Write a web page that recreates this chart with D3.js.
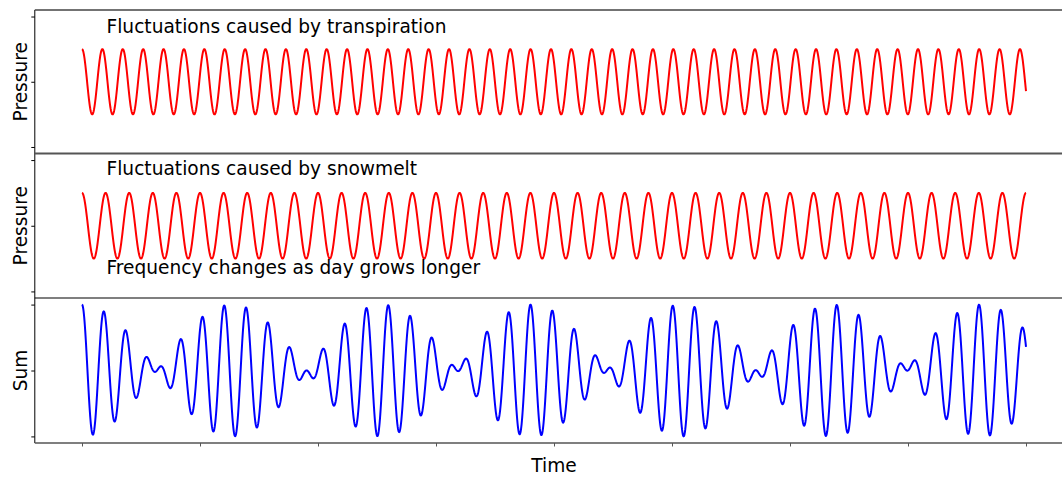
<!DOCTYPE html>
<html>
<head>
<meta charset="utf-8">
<script src="https://cdn.jsdelivr.net/npm/d3@7"></script>
<style>
  html, body { margin: 0; padding: 0; background: #fff; }
  svg { display: block; font-family: "DejaVu Sans", sans-serif; }
</style>
</head>
<body>
<svg id="chart" width="1062" height="477"></svg>
<script>
// ---- Data ----
const timeDomain = [0, 8];                 // time span of all series
const timeTicks = [0, 1, 2, 3, 4, 5, 6, 7, 8];
const pressureTicks = [-2, 0, 2];
const yDomain = [-2.2, 2.2];
// sinusoid parameters: cycles per time unit, amplitude, phase (cycles)
const transpirationWave = { freq: 5.787, amp: 1, phase: 0 };
const snowmeltWave = { freq: 5.0, amp: 1, phase: 0 };
const panelLabels = ["Pressure", "Pressure", "Sum"];
const panelTitles = ["Fluctuations caused by transpiration", "Fluctuations caused by snowmelt"];
const panelNote = "Frequency changes as day grows longer";
const xLabel = "Time";
const sampleCount = 3000;

const times = d3.range(sampleCount + 1).map(i => timeDomain[0] + (timeDomain[1] - timeDomain[0]) * i / sampleCount);
const wave = (p, t) => p.amp * Math.cos(2 * Math.PI * (p.freq * t + p.phase));
const transpiration = times.map(t => ({ t, v: wave(transpirationWave, t) }));
const snowmelt = times.map(t => ({ t, v: wave(snowmeltWave, t) }));
const sum = times.map((t, i) => ({ t, v: transpiration[i].v + snowmelt[i].v }));

// ---- Layout ----
const svg = d3.select("#chart");
const x = d3.scaleLinear().domain(timeDomain).range([82, 1026]);
const axLeft = x(-0.4), axRight = x(8.4);
const panels = [
  { top: 10, bottom: 153.5, data: transpiration, color: "#ff0000" },
  { top: 153.5, bottom: 298, data: snowmelt, color: "#ff0000" },
  { top: 298, bottom: 443, data: sum, color: "#0000ff" }
];
const font = 18.6;

panels.forEach((p, i) => {
  const y = d3.scaleLinear().domain(yDomain).range([p.bottom, p.top]);
  p.y = y;
  const line = d3.line().x(d => x(d.t)).y(d => y(d.v));
  svg.append("path").datum(p.data)
    .attr("fill", "none").attr("stroke", p.color)
    .attr("stroke-width", 2).attr("stroke-linejoin", "round")
    .attr("d", line);

  const ya = svg.append("g").attr("transform", `translate(${axLeft},0)`)
    .call(d3.axisLeft(y).tickValues(pressureTicks).tickSize(3.5).tickFormat(""));
  ya.select(".domain").remove();
  ya.selectAll(".tick line").attr("stroke", "#000").attr("stroke-width", 1);

  svg.append("text")
    .attr("transform", `translate(27,${(p.top + p.bottom) / 2}) rotate(-90)`)
    .attr("text-anchor", "middle")
    .attr("font-size", font)
    .attr("fill", "#000")
    .text(panelLabels[i]);
});

// left spine
svg.append("line").attr("x1", axLeft).attr("x2", axLeft).attr("y1", 10).attr("y2", 443)
  .attr("stroke", "#000").attr("stroke-width", 1);
// horizontal spines
svg.append("line").attr("x1", axLeft).attr("x2", axRight).attr("y1", 10).attr("y2", 10)
  .attr("stroke", "#444").attr("stroke-width", 1.6);
svg.append("line").attr("x1", axLeft).attr("x2", axRight).attr("y1", 153.5).attr("y2", 153.5)
  .attr("stroke", "#555").attr("stroke-width", 2);
svg.append("line").attr("x1", axLeft).attr("x2", axRight).attr("y1", 298).attr("y2", 298)
  .attr("stroke", "#000").attr("stroke-width", 1.2);
svg.append("line").attr("x1", axLeft).attr("x2", axRight).attr("y1", 443).attr("y2", 443)
  .attr("stroke", "#555").attr("stroke-width", 1.6);

// x axis ticks
const xa = svg.append("g").attr("transform", `translate(0,443)`)
  .call(d3.axisBottom(x).tickValues(timeTicks).tickSize(3.5).tickFormat(""));
xa.select(".domain").remove();
xa.selectAll(".tick line").attr("stroke", "#555").attr("stroke-width", 1);

// titles and notes
svg.append("text").attr("x", 106.5).attr("y", 32.7).attr("font-size", font).attr("fill", "#000").text(panelTitles[0]);
svg.append("text").attr("x", 106.5).attr("y", 175).attr("font-size", font).attr("fill", "#000").text(panelTitles[1]);
svg.append("text").attr("x", 106.5).attr("y", 274.3).attr("font-size", font).attr("fill", "#000").text(panelNote);
svg.append("text").attr("x", x(4)).attr("y", 471.7).attr("text-anchor", "middle").attr("font-size", font).attr("fill", "#000").text(xLabel);
</script>
</body>
</html>
